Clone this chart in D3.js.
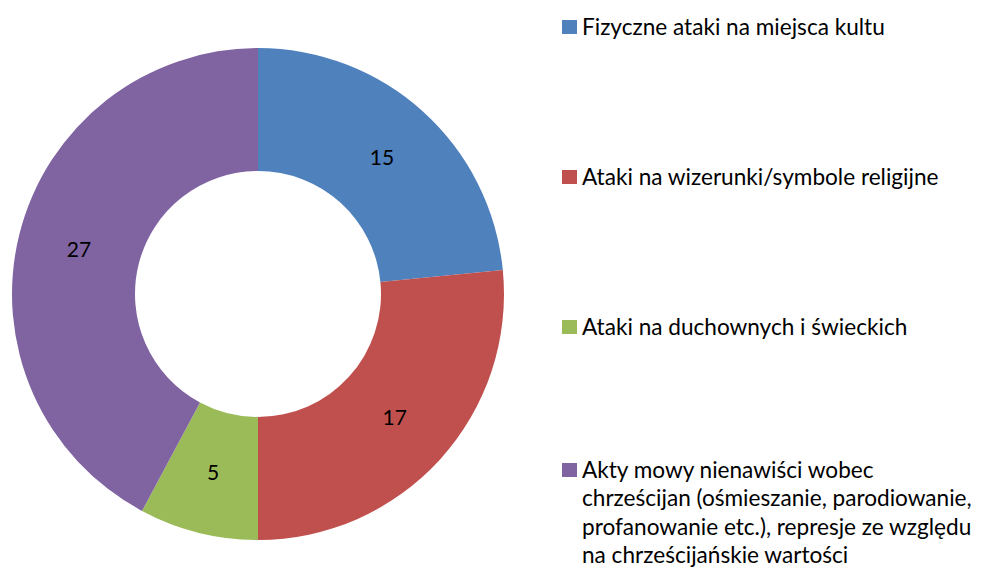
<html><head>
<style>
  body { margin: 0; background: #fff; }
  svg text { font-family: Lato, "Open Sans", sans-serif; fill: #000; }
</style>
</head><body>
<div id="chart"></div>
<script src="https://cdnjs.cloudflare.com/ajax/libs/d3/7.8.5/d3.min.js"></script>
<script>
const width = 981;
const height = 569;

// data
const categories = [
  "Fizyczne ataki na miejsca kultu",
  "Ataki na wizerunki/symbole religijne",
  "Ataki na duchownych i świeckich",
  "Akty mowy nienawiści wobec chrześcijan (ośmieszanie, parodiowanie, profanowanie etc.), represje ze względu na chrześcijańskie wartości"
];
const values = [15, 17, 5, 27];
const legendLines = [
  ["Fizyczne ataki na miejsca kultu"],
  ["Ataki na wizerunki/symbole religijne"],
  ["Ataki na duchownych i świeckich"],
  ["Akty mowy nienawiści wobec", "chrześcijan (ośmieszanie, parodiowanie,", "profanowanie etc.), represje ze względu", "na chrześcijańskie wartości"]
];
const colors = ["#4F81BD", "#C0504D", "#9BBB59", "#8064A2"];

const svg = d3.select("#chart").append("svg")
  .attr("width", width)
  .attr("height", height);

const cx = 258, cy = 294;
const outerR = 246, innerR = 123;

const color = d3.scaleOrdinal().domain(categories).range(colors);

const pie = d3.pie().sort(null).value(d => d.value);
const arcs = pie(categories.map((c, i) => ({ name: c, value: values[i] })));

const arc = d3.arc().innerRadius(innerR).outerRadius(outerR);
const labelArc = d3.arc().innerRadius((innerR + outerR) / 2).outerRadius((innerR + outerR) / 2);

const g = svg.append("g").attr("transform", `translate(${cx},${cy})`);

g.selectAll("path")
  .data(arcs)
  .enter()
  .append("path")
  .attr("d", arc)
  .attr("fill", d => color(d.data.name));

g.selectAll("text.label")
  .data(arcs)
  .enter()
  .append("text")
  .attr("class", "label")
  .attr("transform", d => `translate(${labelArc.centroid(d)})`)
  .attr("text-anchor", "middle")
  .attr("dy", "0.35em")
  .style("font-size", "21px")
  .text(d => d.data.value);

// legend
const legendY = [27, 177, 327, 470];
const lineH = 28.5;
const legend = svg.append("g");

categories.forEach((c, i) => {
  const item = legend.append("g").attr("transform", `translate(562,${legendY[i]})`);
  item.append("rect")
    .attr("x", 0)
    .attr("y", -7)
    .attr("width", 15)
    .attr("height", 14)
    .attr("fill", color(c));
  const t = item.append("text")
    .attr("x", 20)
    .attr("y", 0)
    .attr("dy", "0.35em")
    .style("font-size", "22.6px");
  legendLines[i].forEach((line, j) => {
    t.append("tspan")
      .attr("x", 20)
      .attr("y", j * lineH)
      .attr("dy", "0.35em")
      .text(line);
  });
});
</script>
</body></html>
